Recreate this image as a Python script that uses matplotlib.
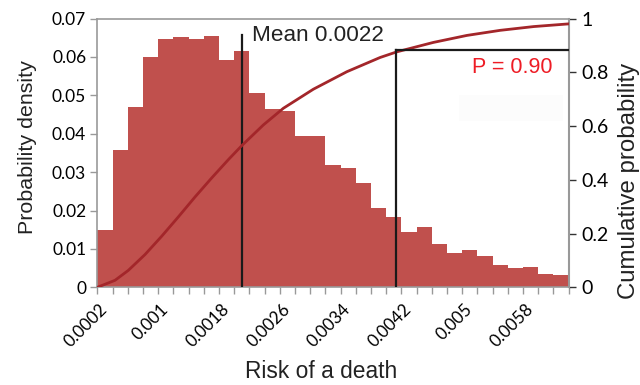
import matplotlib
matplotlib.use("Agg")
import matplotlib.pyplot as plt

# ---- data ----
bin_centers = [round(0.0002 * (i + 1), 4) for i in range(31)]
densities = [0.0150, 0.0358, 0.0469, 0.0601, 0.0646, 0.0652, 0.0646, 0.0655,
             0.0591, 0.0616, 0.0507, 0.0465, 0.0460, 0.0394, 0.0394, 0.0319,
             0.0310, 0.0272, 0.0206, 0.0182, 0.0143, 0.0157, 0.0112, 0.0089,
             0.0096, 0.0081, 0.0058, 0.0049, 0.0053, 0.0035, 0.0031]
bin_width = 0.0002

cdf_x = [0.0001, 0.000333, 0.000508, 0.000728, 0.000947, 0.001166, 0.001385,
         0.001605, 0.001824, 0.0020, 0.002284, 0.002547, 0.002942, 0.003382,
         0.00382, 0.00404, 0.00452, 0.00496, 0.0054, 0.00584, 0.0063]
cdf_y = [0.0, 0.026, 0.063, 0.122, 0.190, 0.262, 0.336, 0.407, 0.475, 0.527,
         0.604, 0.666, 0.737, 0.802, 0.855, 0.876, 0.911, 0.937, 0.956, 0.970,
         0.980]

x_tick_values = [0.0002, 0.001, 0.0018, 0.0026, 0.0034, 0.0042, 0.005, 0.0058]
x_tick_labels = ["0.0002", "0.001", "0.0018", "0.0026", "0.0034", "0.0042", "0.005", "0.0058"]
left_ticks = [0, 0.01, 0.02, 0.03, 0.04, 0.05, 0.06, 0.07]
left_labels = ["0", "0.01", "0.02", "0.03", "0.04", "0.05", "0.06", "0.07"]
right_ticks = [0, 0.2, 0.4, 0.6, 0.8, 1.0]
right_labels = ["0", "0.2", "0.4", "0.6", "0.8", "1"]

mean_line_x = 0.0020
mean_line_top = 0.0657
mean_text = "Mean 0.0022"
p_line_x = 0.00403
p_level = 0.882
p_text = "P = 0.90"

# ---- figure ----
W, H = 640, 385
fig = plt.figure(figsize=(W / 100, H / 100), dpi=100)
ax = fig.add_axes([97.3 / W, 1 - 287.3 / H, (568.7 - 97.3) / W, (287.3 - 18.5) / H])

bar_color = "#C0504D"
ax.bar(bin_centers, densities, width=bin_width, color=bar_color, edgecolor="none",
       linewidth=0, zorder=2)

xmin, xmax = 0.0001, 0.0063
ax.set_xlim(xmin, xmax)
ax.set_ylim(0, 0.07)

tick_font = "Lato"
ax.set_xticks(x_tick_values)
ax.set_xticklabels(x_tick_labels, rotation=45, ha="right", va="center",
                   rotation_mode="anchor", fontsize=12.3, family=tick_font)
ax.tick_params(axis="x", which="major", length=0, pad=14)
edges = [xmin + bin_width * k for k in range(32)]
ax.set_xticks(edges, minor=True)
ax.tick_params(axis="x", which="minor", length=5, width=1, color="#999999", direction="out")

ax.set_yticks(left_ticks)
ax.set_yticklabels(left_labels, fontsize=12.5, family=tick_font)
ax.tick_params(axis="y", length=5, width=1, color="#999999", pad=3)

for s in ["left", "bottom", "top"]:
    ax.spines[s].set_color("#999999")
    ax.spines[s].set_linewidth(1.2)
ax.spines["right"].set_visible(False)

# faint box
ax.add_patch(plt.Rectangle((0.00486, 0.0434), 0.00137, 0.0067,
                           facecolor="#fcfcfc", edgecolor="none", zorder=1))

# mean line
ax.plot([mean_line_x, mean_line_x], [0, mean_line_top], color="#1a1a1a", lw=1.6, zorder=4)
ax.text(0.002136, mean_line_top, mean_text, fontsize=16.2, family="Liberation Sans",
        color="#222222", va="center", ha="left", zorder=5)

# cumulative
ax2 = ax.twinx()
ax2.set_ylim(0, 1)
ax2.set_xlim(xmin, xmax)
ax2.plot(cdf_x, cdf_y, color="#A3262A", lw=2.0, zorder=3, solid_joinstyle="round")
ax2.plot([p_line_x, p_line_x], [0, p_level], color="#1a1a1a", lw=1.6, zorder=4)
ax2.plot([p_line_x, xmax], [p_level, p_level], color="#1a1a1a", lw=1.6, zorder=4)
ax2.text(0.00503, 0.819, p_text, fontsize=15.5, family="Liberation Sans",
         color="#EE1C25", va="center", ha="left")
ax2.set_yticks(right_ticks)
ax2.set_yticklabels(right_labels, fontsize=14, family=tick_font)
ax2.tick_params(axis="y", length=5, width=1, color="#333333", pad=4)
for s in ["left", "bottom", "top"]:
    ax2.spines[s].set_visible(False)
ax2.spines["right"].set_color("#999999")
ax2.spines["right"].set_linewidth(1.5)

# axis titles
fig.text(28 / W, 1 - 147 / H, "Probability density", rotation=90, ha="center", va="center",
         fontsize=15.4, family="Liberation Sans", color="#222222")
fig.text(629 / W, 1 - 181 / H, "Cumulative probability", rotation=90, ha="center", va="center",
         fontsize=17.3, family="Liberation Sans", color="#222222")
fig.text(321 / W, 1 - 371 / H, "Risk of a death", ha="center", va="center",
         fontsize=16.4, family="Liberation Sans", color="#222222")

fig.savefig("out.png", dpi=100)
